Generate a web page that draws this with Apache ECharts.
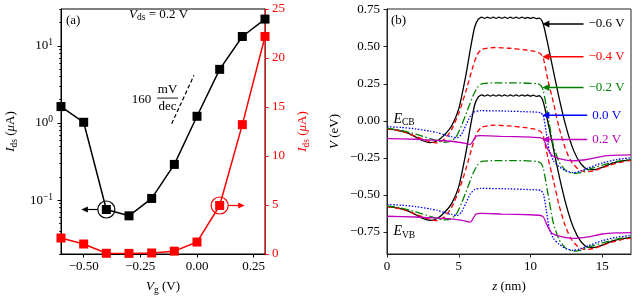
<!DOCTYPE html>
<html><head><meta charset="utf-8">
<script src="https://cdn.jsdelivr.net/npm/echarts@6/dist/echarts.min.js"></script>
<style>html,body{margin:0;padding:0;background:#fff}#c{width:640px;height:300px}</style>
</head><body><div id="c"></div>
<script>
// ---------- Panel (a) data ----------
const vg = [-0.6, -0.5, -0.4, -0.3, -0.2, -0.1, 0.0, 0.1, 0.2, 0.3];
const ids = [1.63, 1.02, 0.0755, 0.0625, 0.105, 0.29, 1.22, 4.95, 13.2, 22.2];
const vgTicks = [-0.5, -0.25, 0, 0.25];
const logTicks = [0.1, 1, 10];
const logMinor = [0.02,0.03,0.04,0.05,0.06,0.07,0.08,0.09,0.2,0.3,0.4,0.5,0.6,0.7,0.8,0.9,2,3,4,5,6,7,8,9,20,30];
const linTicks = [0, 5, 10, 15, 20, 25];
// ---------- Panel (b) data ----------
const zTicks = [0, 5, 10, 15];
const vTicks = [-0.75, -0.5, -0.25, 0, 0.25, 0.5, 0.75];
const biasLabels = ['\u22120.6 V', '\u22120.4 V', '\u22120.2 V', '0.0 V', '0.2 V'];
const arrowV = [0.654, 0.433, 0.225, 0.038, -0.127];

const zK = [0,0.5,1,1.5,2,2.5,3,3.5,4,4.5,5,5.5,5.8,6.1,6.35,6.6,6.8,7.0,7.2,7.4,7.6,7.8,8.0,8.2,8.4,8.6,8.8,9.0,9.2,9.4,9.6,9.8,10.0,10.2,10.4,10.6,10.8,10.95,11.2,11.5,12.0,12.5,13.0,13.5,14.0,14.5,15.0,15.5,16.0,16.5,17];
const kCB = [-0.055,-0.06,-0.07,-0.085,-0.11,-0.135,-0.148,-0.135,-0.095,-0.035,0.08,0.31,0.48,0.63,0.685,0.700,0.692,0.700,0.692,0.700,0.692,0.700,0.692,0.700,0.692,0.700,0.692,0.700,0.692,0.700,0.692,0.699,0.691,0.698,0.690,0.694,0.675,0.63,0.52,0.38,0.15,-0.05,-0.2,-0.29,-0.33,-0.33,-0.315,-0.295,-0.28,-0.27,-0.262];
const kVB = [-0.58,-0.585,-0.595,-0.61,-0.635,-0.66,-0.673,-0.66,-0.62,-0.56,-0.445,-0.215,-0.045,0.105,0.16,0.175,0.167,0.175,0.167,0.175,0.167,0.175,0.167,0.175,0.167,0.175,0.167,0.175,0.167,0.175,0.167,0.174,0.166,0.173,0.165,0.169,0.15,0.105,-0.005,-0.145,-0.375,-0.575,-0.725,-0.815,-0.855,-0.855,-0.84,-0.82,-0.805,-0.795,-0.787];

const zR = [0,1,2,2.5,3,3.5,4,4.5,5,5.5,6,6.3,6.6,7.5,8.5,9.5,10.3,10.7,10.9,11.2,11.6,12.0,12.4,12.8,13.3,13.8,14.5,15.5,16.5,17];
const rCB = [-0.055,-0.07,-0.105,-0.125,-0.142,-0.15,-0.125,-0.06,0.05,0.2,0.37,0.45,0.482,0.495,0.49,0.48,0.468,0.452,0.42,0.28,0.12,-0.05,-0.18,-0.27,-0.325,-0.345,-0.335,-0.3,-0.275,-0.268];
const rVB = [-0.58,-0.595,-0.63,-0.65,-0.667,-0.675,-0.65,-0.585,-0.475,-0.325,-0.155,-0.075,-0.043,-0.03,-0.035,-0.045,-0.057,-0.073,-0.105,-0.245,-0.405,-0.575,-0.705,-0.795,-0.85,-0.87,-0.86,-0.825,-0.8,-0.793];

const zG = [0,1,2,3,3.5,4,4.4,4.8,5.2,5.6,6.0,6.3,6.6,7.5,9.0,10.5,10.75,10.9,11.2,11.6,12.0,12.5,13.0,13.5,14.0,15.0,16.0,17];
const gCB = [-0.05,-0.065,-0.09,-0.12,-0.135,-0.145,-0.14,-0.11,-0.03,0.07,0.17,0.225,0.25,0.256,0.256,0.25,0.235,0.2,0.04,-0.17,-0.28,-0.34,-0.355,-0.35,-0.33,-0.3,-0.275,-0.262];
const gVB = [-0.575,-0.59,-0.615,-0.645,-0.66,-0.67,-0.665,-0.635,-0.555,-0.455,-0.355,-0.3,-0.275,-0.269,-0.269,-0.275,-0.29,-0.325,-0.485,-0.695,-0.805,-0.865,-0.88,-0.875,-0.855,-0.825,-0.8,-0.787];

const zB = [0,1,2,3,3.5,4,4.5,4.9,5.2,5.5,5.8,6.1,6.5,8,10,10.7,10.9,11.1,11.3,11.6,12.0,12.5,13.0,13.5,14.0,15,16,17];
const bCB = [-0.04,-0.045,-0.055,-0.07,-0.08,-0.095,-0.108,-0.115,-0.09,-0.03,0.03,0.06,0.068,0.066,0.06,0.055,0.03,-0.08,-0.2,-0.27,-0.31,-0.34,-0.35,-0.34,-0.32,-0.285,-0.262,-0.25];
const bVB = [-0.565,-0.57,-0.58,-0.595,-0.605,-0.62,-0.633,-0.64,-0.615,-0.555,-0.495,-0.465,-0.457,-0.459,-0.465,-0.47,-0.495,-0.605,-0.725,-0.795,-0.835,-0.865,-0.875,-0.865,-0.845,-0.81,-0.787,-0.775];

const zM = [0,2,3,4,5,5.5,5.8,6.0,6.2,6.5,8,10,10.7,10.9,11.2,11.5,12,13,14,15,16,17];
const mCB = [-0.12,-0.125,-0.13,-0.135,-0.145,-0.153,-0.16,-0.135,-0.105,-0.1,-0.105,-0.11,-0.115,-0.125,-0.19,-0.235,-0.255,-0.27,-0.26,-0.24,-0.232,-0.23];
const mVB = [-0.645,-0.65,-0.655,-0.66,-0.67,-0.678,-0.685,-0.66,-0.63,-0.625,-0.63,-0.635,-0.64,-0.65,-0.715,-0.76,-0.78,-0.795,-0.785,-0.765,-0.757,-0.755];

// ---------- styling ----------
const FONT = '"Liberation Serif", "DejaVu Serif", serif';
const FS = 13;
const RED = '#ff0000', GREEN = '#008000', BLUE = '#0000ff', MAG = '#bf00bf';
const biasColors = ['#000000', RED, GREEN, BLUE, MAG];
const minus = v => (v < 0 ? '\u2212' : '') + Math.abs(v).toFixed(2);
const richBase = {
  i: {fontStyle: 'italic', fontFamily: FONT, fontSize: FS, lineHeight: 16},
  s: {fontFamily: FONT, fontSize: 9.5, lineHeight: 16, verticalAlign: 'bottom'},
  n: {fontFamily: FONT, fontSize: FS, lineHeight: 16}
};
const measure = (() => { const c = document.createElement('canvas').getContext('2d'); c.font = FS + 'px ' + FONT; return t => c.measureText(t).width; })();

const chart = echarts.init(document.getElementById('c'));
const pair = (xs, ys) => xs.map((x, i) => [x, ys[i]]);

function bandSeries(xs, ys, color, type, z) {
  return {type: 'line', xAxisIndex: 1, yAxisIndex: 3, data: pair(xs, ys), showSymbol: false, symbol: 'none',
    smooth: 0.2, z: z, silent: true, animation: false,
    lineStyle: {color: color, width: 1.3, type: type}};
}

const tickStyle = (c) => ({show: true, length: 3.5, lineStyle: {color: c, width: 1}});
const axLine = (c) => ({show: true, onZero: false, lineStyle: {color: c, width: 1}});

const option = {
  animation: false,
  backgroundColor: '#fff',
  grid: [
    {left: 61, top: 9, width: 204, height: 245, show: true, borderColor: '#000', borderWidth: 1, backgroundColor: 'transparent'},
    {left: 387, top: 9, width: 244, height: 245, show: true, borderColor: '#222', borderWidth: 1, backgroundColor: 'transparent'}
  ],
  xAxis: [
    {gridIndex: 0, type: 'value', min: -0.6, max: 0.3,
      axisLine: axLine('#000'),
      axisTick: Object.assign(tickStyle('#000'), {customValues: vgTicks}),
      axisLabel: {customValues: vgTicks, formatter: v => minus(v), fontFamily: FONT, fontSize: FS, color: '#000', margin: 6},
      splitLine: {show: false},
      name: '{i|V}{s|g}{n| (V)}', nameLocation: 'middle', nameGap: 25,
      nameTextStyle: {color: '#000', fontFamily: FONT, fontSize: FS, rich: richBase}},
    {gridIndex: 1, type: 'value', min: 0, max: 17, interval: 5,
      axisLine: axLine('#222'),
      axisTick: Object.assign(tickStyle('#222'), {customValues: zTicks}),
      axisLabel: {customValues: zTicks, fontFamily: FONT, fontSize: FS, color: '#000', margin: 6},
      splitLine: {show: false},
      name: '{i|z}{n| (nm)}', nameLocation: 'middle', nameGap: 25,
      nameTextStyle: {color: '#000', fontFamily: FONT, fontSize: FS, rich: richBase}}
  ],
  yAxis: [
    {gridIndex: 0, type: 'log', logBase: 10, min: 0.02, max: 30, position: 'left',
      axisLine: axLine('#000'),
      axisTick: Object.assign(tickStyle('#000'), {customValues: logTicks}),
      axisLabel: {customValues: logTicks, fontFamily: FONT, fontSize: FS, color: '#000', margin: 8,
        formatter: v => { const e = Math.round(Math.log10(v)); return '{n|10}{p|' + (e < 0 ? '\u2212' + (-e) : e) + '}'; },
        rich: {n: {fontFamily: FONT, fontSize: FS, lineHeight: 16}, p: {fontFamily: FONT, fontSize: 9.5, lineHeight: 16, verticalAlign: 'top'}}},
      splitLine: {show: false},
      name: '{i|I}{s|ds}{n| (}{i|μ}{n|A)}', nameLocation: 'middle', nameGap: 42, nameRotate: 90,
      nameTextStyle: {color: '#000', fontFamily: FONT, fontSize: FS, rich: richBase}},
    {gridIndex: 0, type: 'value', min: 0, max: 25, interval: 5, position: 'right',
      axisLine: axLine(RED),
      axisTick: tickStyle(RED),
      axisLabel: {fontFamily: FONT, fontSize: FS, color: RED, margin: 7},
      splitLine: {show: false},
      name: '{i|I}{s|ds}{n| (}{i|μ}{n|A)}', nameLocation: 'middle', nameGap: 30, nameRotate: 90,
      nameTextStyle: {color: RED, fontFamily: FONT, fontSize: FS, rich: richBase}},
    {gridIndex: 0, type: 'log', logBase: 10, min: 0.02, max: 30, position: 'left',
      axisLine: {show: false, onZero: false},
      axisTick: {show: true, length: 2, lineStyle: {color: '#000', width: 0.8}, customValues: logMinor},
      axisLabel: {show: false}, splitLine: {show: false}},
    {gridIndex: 1, type: 'value', min: -0.9, max: 0.755,
      axisLine: axLine('#222'),
      axisTick: Object.assign(tickStyle('#222'), {customValues: vTicks}),
      axisLabel: {customValues: vTicks, formatter: v => minus(v), fontFamily: FONT, fontSize: FS, color: '#000', margin: 7},
      splitLine: {show: false},
      name: '{i|V}{n| (eV)}', nameLocation: 'middle', nameGap: 44, nameRotate: 90,
      nameTextStyle: {color: '#000', fontFamily: FONT, fontSize: FS, rich: richBase}}
  ],
  graphic: [
    {type: 'text', left: 66, top: 14, style: {text: '(a)', fontFamily: FONT, fontSize: FS, fill: '#000'}},
    {type: 'text', left: 391, top: 14, style: {text: '(b)', fontFamily: FONT, fontSize: FS, fill: '#000'}},
    {type: 'text', left: 129, top: 8, style: {text: '{i|V}{s|ds}{n| = 0.2 V}', fontFamily: FONT, fontSize: FS, fill: '#000', rich: richBase}}
  ],
  series: []
};

// panel (a) lines
option.series.push({type: 'line', xAxisIndex: 0, yAxisIndex: 0, data: pair(vg, ids), symbol: 'rect', symbolSize: 9,
  itemStyle: {color: '#000'}, lineStyle: {color: '#000', width: 1.5}, z: 5, silent: true});
option.series.push({type: 'line', xAxisIndex: 0, yAxisIndex: 1, data: pair(vg, ids), symbol: 'rect', symbolSize: 9,
  itemStyle: {color: RED}, lineStyle: {color: RED, width: 1.5}, z: 4, silent: true});

function circleArrow(yIdx, point, color, dir) {
  return {type: 'custom', xAxisIndex: 0, yAxisIndex: yIdx, data: [point], silent: true, z: 6, clip: false,
    renderItem: (params, api) => {
      const p = api.coord([api.value(0), api.value(1)]);
      const r = 8.5;
      return {type: 'group', children: [
        {type: 'circle', shape: {cx: p[0], cy: p[1], r: r}, style: {fill: 'none', stroke: color, lineWidth: 1.2}},
        {type: 'line', shape: {x1: p[0] + dir * r, y1: p[1], x2: p[0] + dir * 20, y2: p[1]}, style: {stroke: color, lineWidth: 1.2}},
        {type: 'polygon', shape: {points: [[p[0] + dir * 25, p[1]], [p[0] + dir * 18.5, p[1] - 3], [p[0] + dir * 18.5, p[1] + 3]]}, style: {fill: color}}
      ]};
    }};
}
option.series.push(circleArrow(0, [vg[2], ids[2]], '#000', -1));
option.series.push(circleArrow(1, [vg[7], ids[7]], RED, 1));

// slope annotation (160 mV/dec)
const slopeLine = [[-0.1117, 0.976], [-0.0133, 4.155]];
const slopeText = [[-0.130, 2.1]];
option.series.push({type: 'custom', xAxisIndex: 0, yAxisIndex: 0, data: slopeText, silent: true, z: 6, clip: false,
  renderItem: (params, api) => {
    const a = api.coord(slopeLine[0]), b = api.coord(slopeLine[1]);
    const p = api.coord([api.value(0), api.value(1)]);
    const ts = (t, x, y) => ({type: 'text', style: {text: t, x: x, y: y, fontFamily: FONT, fontSize: FS, fill: '#000', align: 'center', verticalAlign: 'middle'}});
    return {type: 'group', children: [
      {type: 'line', shape: {x1: a[0], y1: a[1], x2: b[0], y2: b[1]}, style: {stroke: '#000', lineWidth: 1.2, lineDash: [4, 2.5]}},
      ts('160', p[0] - 26, p[1] + 1),
      ts('mV', p[0], p[1] - 8.5),
      ts('dec', p[0], p[1] + 8.5),
      {type: 'line', shape: {x1: p[0] - 10.5, y1: p[1], x2: p[0] + 10.5, y2: p[1]}, style: {stroke: '#000', lineWidth: 0.9}}
    ]};
  }});

// panel (b) bands
const bands = [
  [zK, kCB, kVB, biasColors[0], 'solid'],
  [zR, rCB, rVB, biasColors[1], [5, 3]],
  [zG, gCB, gVB, biasColors[2], [8, 2.5, 1.5, 2.5]],
  [zB, bCB, bVB, biasColors[3], [1.5, 1.6]],
  [zM, mCB, mVB, biasColors[4], 'solid']
];
bands.forEach((b, i) => {
  option.series.push(bandSeries(b[0], b[1], b[3], b[4], 10 + i));
  option.series.push(bandSeries(b[0], b[2], b[3], b[4], 10 + i));
});

// bias arrows + labels
option.series.push({type: 'custom', xAxisIndex: 1, yAxisIndex: 3, data: arrowV.map(v => [10.82, v]), silent: true, z: 20, clip: false,
  renderItem: (params, api) => {
    const i = params.dataIndex;
    const tip = api.coord([api.value(0), api.value(1)]);
    const cx = api.coord([15.3, api.value(1)])[0];
    const t = biasLabels[i], col = biasColors[i];
    const w = measure(t);
    const tail = cx - w / 2 - 5;
    return {type: 'group', children: [
      {type: 'line', shape: {x1: tip[0] + 5, y1: tip[1], x2: tail, y2: tip[1]}, style: {stroke: col, lineWidth: 1.5}},
      {type: 'polygon', shape: {points: [[tip[0], tip[1]], [tip[0] + 7, tip[1] - 3.5], [tip[0] + 7, tip[1] + 3.5]]}, style: {fill: col}},
      {type: 'text', style: {text: t, x: cx, y: tip[1], fontFamily: FONT, fontSize: FS, fill: col, align: 'center', verticalAlign: 'middle'}}
    ]};
  }});

// E_CB / E_VB labels
const bandNames = ['CB', 'VB'];
const bandNamePos = [[0.45, 0.012], [0.45, -0.745]];
option.series.push({type: 'custom', xAxisIndex: 1, yAxisIndex: 3, data: bandNamePos, silent: true, z: 20, clip: false,
  renderItem: (params, api) => {
    const p = api.coord([api.value(0), api.value(1)]);
    return {type: 'text', style: {text: '{e|E}{s|' + bandNames[params.dataIndex] + '}', x: p[0], y: p[1], align: 'left', verticalAlign: 'middle',
      rich: {e: {fontStyle: 'italic', fontFamily: FONT, fontSize: 14, lineHeight: 18, fill: '#000'}, s: {fontFamily: FONT, fontSize: 9.5, lineHeight: 18, verticalAlign: 'bottom', fill: '#000'}}}};
  }});

chart.setOption(option);
</script></body></html>
